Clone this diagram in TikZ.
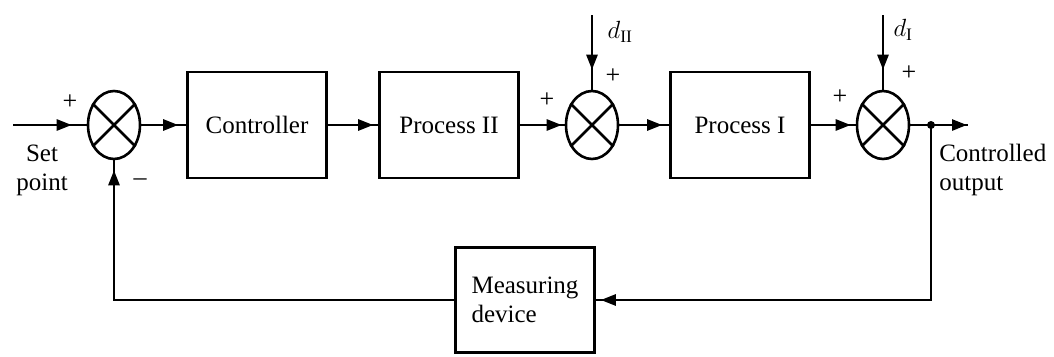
\documentclass[tikz,border=0pt]{standalone}
\usepackage{fontspec}
\setmainfont{Liberation Serif}
\usetikzlibrary{arrows.meta,shapes.geometric,decorations.markings}

\begin{document}
\begin{tikzpicture}[x=1pt,y=-1pt,line width=2.6pt,
	blk/.style={draw,minimum width=139pt,minimum height=106pt,font=\fontsize{25}{29}\selectfont,align=center},
	sumpt/.style={draw,ellipse,minimum width=52pt,minimum height=68pt,inner sep=0pt},
	sgn/.style={font=\fontsize{26}{26}\selectfont,inner sep=0pt},
	lbl/.style={font=\fontsize{25}{29}\selectfont,inner sep=0pt},
	flow/.style={postaction={decorate},decoration={markings,
		mark=at position #1 with {\arrow{Triangle[length=15pt,width=11pt]}}}},
	flow/.default=-6pt]
	\useasboundingbox (0,0) rectangle (1054,356);
	% blocks and summing points
	\node[sumpt] (s1) at (114,125) {};
	\node[blk] (ctrl) at (257,125) {Controller};
	\node[blk] (p2) at (449,125) {Process II};
	\node[sumpt] (s2) at (592,125) {};
	\node[blk] (p1) at (740,125) {Process I};
	\node[sumpt] (s3) at (883,125) {};
	\node[blk,minimum height=105pt,align=left] (meas) at (525,300) {Measuring\\device};
	\foreach \s in {s1,s2,s3}
		\draw (\s.45) -- (\s.225) (\s.135) -- (\s.315);
	% free ends
	\coordinate (in) at (13,125);
	\coordinate (out) at (968,125);
	\coordinate (br) at (931,125);
	\coordinate (d2) at (592,15);
	\coordinate (d1) at (883,15);
	% signals
	\draw[flow=-15pt] (in) -- (s1);
	\draw[flow=-8pt] (s1) -- (ctrl);
	\draw[flow=-5pt] (ctrl) -- (p2);
	\draw[flow=-3pt] (p2) -- (s2);
	\draw[flow=-7pt] (s2) -- (p1);
	\draw[flow=-5pt] (p1) -- (s3);
	\draw[flow=-1pt] (s3) -- (out);
	\draw[flow=-20pt] (d2) -- (s2);
	\draw[flow=-20pt] (d1) -- (s3);
	\fill (br) circle (4pt);
	\draw[flow=-5pt] (br) |- (meas);
	\draw[flow=-10pt] (meas) -| (s1);
	% signs and labels
	\node[sgn] (pa) at (70,102) {+};
	\node[sgn] (ma) at (140,182) {–};
	\node[sgn] (pb) at (547,100) {+};
	\node[sgn] (pc) at (613,76) {+};
	\node[sgn] (pd) at (840,97) {+};
	\node[sgn] (pe) at (909,73) {+};
	\node[lbl] (dII) at (620,32) {$d_{\mathrm{II}}$};
	\node[lbl] (dI) at (903,30) {$d_{\mathrm{I}}$};
	\node[lbl,align=center] (sp) at (42,170) {Set\\point};
	\node[lbl,align=left,anchor=west] (co) at (938,170) {Controlled\\output};
\end{tikzpicture}
\end{document}
